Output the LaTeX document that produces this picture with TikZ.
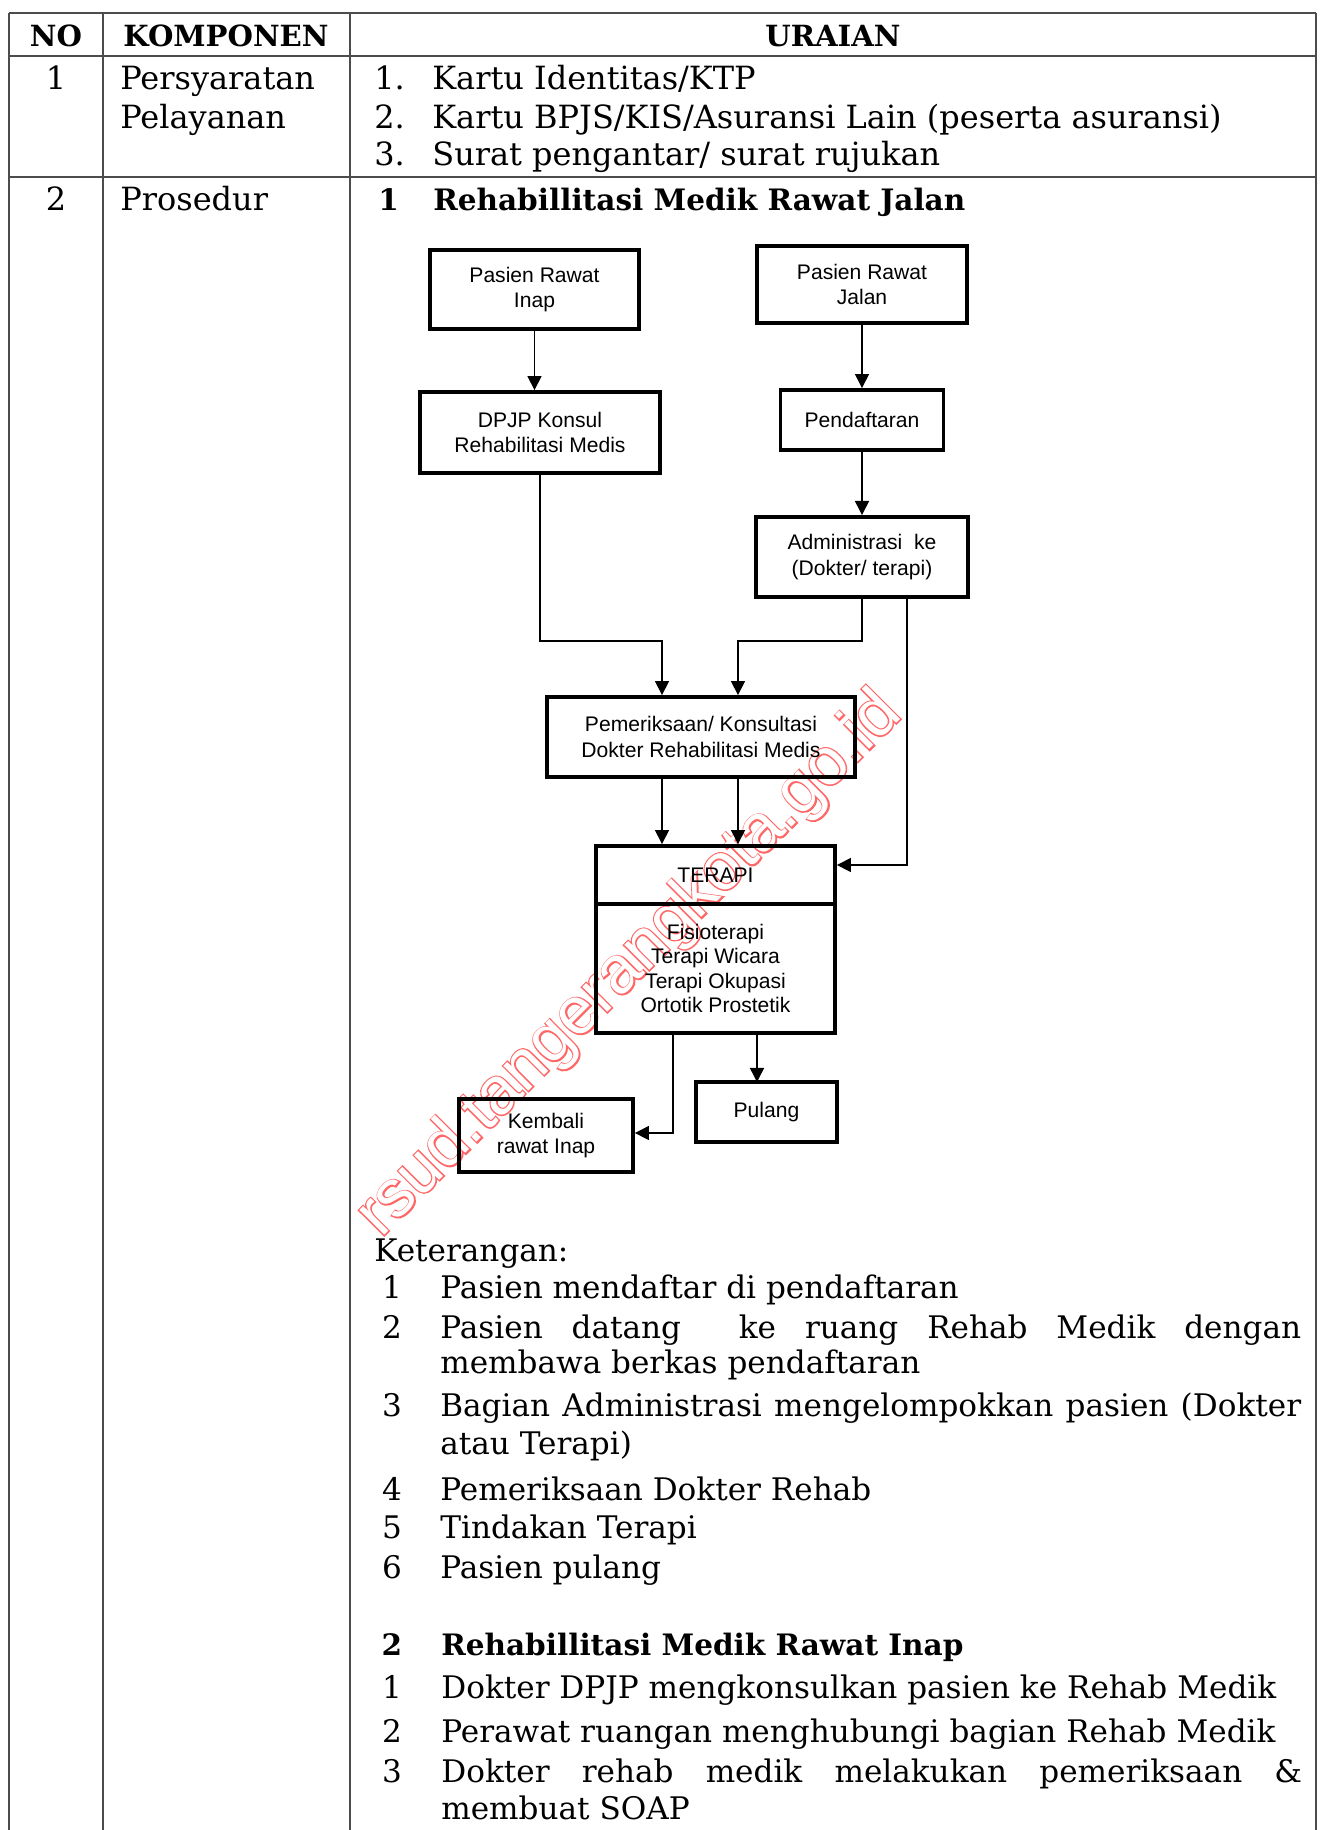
\documentclass[tikz,border=0pt]{standalone}
\usepackage{fontspec}
\setmainfont{DejaVu Serif}
\newfontfamily\flowfont{Liberation Sans}
\newfontfamily\wmthick[FakeBold=4]{Liberation Sans}
\usetikzlibrary{positioning, arrows.meta}

\tikzset{
  box/.style={draw, line width=2.2pt, align=center, inner sep=0pt,
    font=\flowfont\fontsize{12}{14.6}\selectfont},
  flow/.style={line width=0.8pt, -{Triangle[length=8pt,width=8pt]}},
  rule/.style={line width=0.7pt, black!70},
  txt/.style={anchor=base west, inner sep=0pt, font=\fontsize{17.7}{20}\selectfont},
  top/.style={txt, font=\fontsize{18.2}{20}\selectfont},
  num/.style={txt, anchor=base},
  hd/.style={anchor=base, inner sep=0pt, font=\fontsize{16.6}{20}\selectfont\bfseries},
  hdl/.style={txt, font=\fontsize{16.8}{20}\selectfont\bfseries},
  mark/.style={rotate=45, inner sep=0pt},
}
\newcommand{\jline}[1]{\makebox[17.22cm][s]{#1}}

\begin{document}
\begin{tikzpicture}
	[x=0.02cm, y=-0.02cm, on grid]
   \useasboundingbox (0,0) rectangle (1324,1830);
   % watermark: thick red copy under a white copy gives the outline
   \node[rotate=45, inner sep=0pt, text=red!60,
     font=\wmthick\fontsize{38}{38}\selectfont] (wm_a) at (630,965)
     {rsud.tangerangkota.go.id};
   \node[rotate=45, inner sep=0pt, text=white,
     font=\flowfont\fontsize{38}{38}\selectfont] (wm_b) at (wm_a)
     {rsud.tangerangkota.go.id};

   % table
   \draw[rule] (9,13) -- (1316,13);
   \draw[rule] (9,56) -- (1316,56);
   \draw[rule] (9,177) -- (1316,177);
   \foreach \x in {9,103,350,1316}
     \draw[rule] (\x,13) -- (\x,1830);

   \node[hd] (h_no) at (56,46) {NO};
   \node[hd] (h_komp) at (226,46) {KOMPONEN};
   \node[hd] (h_urai) at (833,46) {URAIAN};

   \node[num, top, anchor=base] (n_1) at (56,89) {1};
   \node[top] (k_1a) at (120,89) {Persyaratan};
   \node[top] (k_1b) at (120,128) {Pelayanan};
   \node[top] (u_1n) at (374,89) {1.};
   \node[top] (u_1) at (432,89) {Kartu Identitas/KTP};
   \node[top] (u_2n) at (374,128) {2.};
   \node[top] (u_2) at (432,128) {Kartu BPJS/KIS/Asuransi Lain (peserta asuransi)};
   \node[top] (u_3n) at (374,165) {3.};
   \node[top] (u_3) at (432,165) {Surat pengantar/ surat rujukan};

   \node[num, top, anchor=base] (n_2) at (56,210) {2};
   \node[top] (k_2) at (120,210) {Prosedur};
   \node[hdl] (s_1n) at (378,210) {1};
   \node[hdl] (s_1) at (433,210) {Rehabillitasi Medik Rawat Jalan};

   % flowchart
   \node[box, minimum width=4.18cm, minimum height=1.58cm] (inap) at (534.5,289.5) {Pasien Rawat\\Inap};
   \node[box, minimum width=4.2cm, minimum height=1.54cm] (jalan) at (862,284.5) {Pasien Rawat\\Jalan};
   \node[box, minimum width=4.8cm, minimum height=1.62cm] (dpjp) at (540,432.5) {DPJP Konsul\\Rehabilitasi Medis};
   \node[box, minimum width=3.26cm, minimum height=1.2cm] (daftar) [below=2.71cm of jalan] {Pendaftaran};
   \node[box, minimum width=4.24cm, minimum height=1.6cm] (admin) [below=2.74cm of daftar] {Administrasi\ \ ke\\(Dokter/ terapi)};
   \node[box, minimum width=6.16cm, minimum height=1.6cm] (pem) at (701,737) {Pemeriksaan/ Konsultasi\\Dokter Rehabilitasi Medis};
   \node[box, minimum width=4.78cm, minimum height=1.16cm] (terapi) [below right=2.76cm and 0.29cm of pem] {TERAPI};
   \node[box, minimum width=4.78cm, minimum height=2.58cm,
     font=\flowfont\fontsize{12}{13.9}\selectfont] (jenis) [below=1.87cm of terapi]
     {Fisioterapi\\Terapi Wicara\\Terapi Okupasi\\Ortotik Prostetik};
   \node[box, minimum width=3.48cm, minimum height=1.46cm] (kembali) at (546,1135.5) {Kembali\\rawat Inap};
   \node[box, minimum width=2.82cm, minimum height=1.2cm] (pulang) at (766.5,1112) {Pulang};

   \coordinate (m_1) at (662,641);
   \coordinate (m_2) at (738,641);
   \coordinate (m_3) at (907,865);
   \coordinate (m_4) at (673,1133);
   \coordinate (m_5) at (757,1082);

   \draw[flow] (inap.south) -- (inap.south |- dpjp.north);
   \draw[flow] (daftar.north |- jalan.south) -- (daftar.north);
   \draw[flow] (daftar) -- (admin);
   \draw[flow] (dpjp.south) |- (m_1) -- (m_1 |- pem.north);
   \draw[flow] (admin.south) |- (m_2) -- (m_2 |- pem.north);
   \draw[flow] (m_1 |- pem.south) -- (m_1 |- terapi.north);
   \draw[flow] (m_2 |- pem.south) -- (m_2 |- terapi.north);
   \draw[flow] (m_3 |- admin.south) -- (m_3) -- (m_3 -| terapi.east);
   \draw[flow] (m_4 |- jenis.south) -- (m_4) -- (m_4 -| kembali.east);
   \draw[flow] (m_5 |- jenis.south) -- (m_5);

   % keterangan
   \node[txt] (ket) at (374,1261) {Keterangan:};
   \node[num] (a_1n) at (392,1298) {1};
   \node[txt] (a_1) at (440,1298) {Pasien mendaftar di pendaftaran};
   \node[num] (a_2n) at (392,1338) {2};
   \node[txt] (a_2) at (440,1338) {\jline{Pasien datang\ \ ke ruang Rehab Medik dengan}};
   \node[txt] (a_2b) at (440,1373) {membawa berkas pendaftaran};
   \node[num] (a_3n) at (392,1416) {3};
   \node[txt] (a_3) at (440,1416) {\jline{Bagian Administrasi mengelompokkan pasien (Dokter}};
   \node[txt] (a_3b) at (440,1454) {atau Terapi)};
   \node[num] (a_4n) at (392,1500) {4};
   \node[txt] (a_4) at (440,1500) {Pemeriksaan Dokter Rehab};
   \node[num] (a_5n) at (392,1538) {5};
   \node[txt] (a_5) at (440,1538) {Tindakan Terapi};
   \node[num] (a_6n) at (392,1578) {6};
   \node[txt] (a_6) at (440,1578) {Pasien pulang};

   \node[hd, font=\fontsize{16.8}{20}\selectfont\bfseries] (s_2n) at (392,1655) {2};
   \node[hdl] (s_2) at (441,1655) {Rehabillitasi Medik Rawat Inap};
   \node[num] (b_1n) at (392,1698) {1};
   \node[txt] (b_1) at (441,1698) {Dokter DPJP mengkonsulkan pasien ke Rehab Medik};
   \node[num] (b_2n) at (392,1742) {2};
   \node[txt] (b_2) at (441,1742) {Perawat ruangan menghubungi bagian Rehab Medik};
   \node[num] (b_3n) at (392,1782) {3};
   \node[txt] (b_3) at (441,1782) {\jline{Dokter rehab medik melakukan pemeriksaan \&}};
   \node[txt] (b_3b) at (441,1819) {membuat SOAP};
\end{tikzpicture}
\end{document}
